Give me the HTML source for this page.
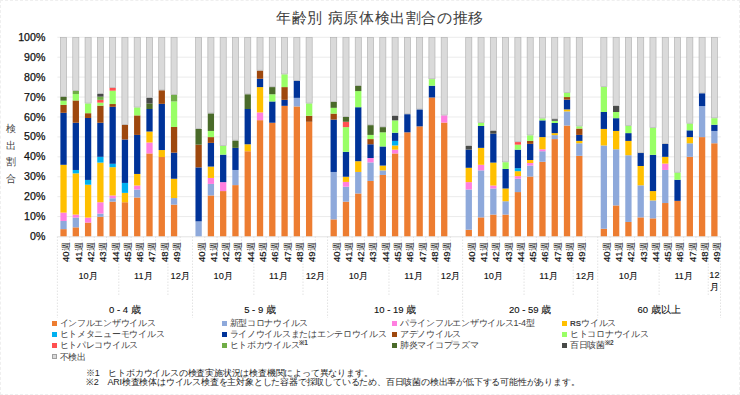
<!DOCTYPE html>
<html><head><meta charset="utf-8">
<style>
html,body{margin:0;padding:0;background:#fff;}
body{width:740px;height:395px;position:relative;overflow:hidden;font-family:"Liberation Sans",sans-serif;color:#404040;}
.frame{position:absolute;left:0;top:0;width:740px;height:395px;box-sizing:border-box;border:1px dashed #efefef;}
.title{position:absolute;left:0;width:760px;top:9px;text-align:center;font-size:15px;letter-spacing:0.6px;color:#404040;white-space:nowrap;}
svg{position:absolute;left:0;top:0;}
.yl{position:absolute;right:694.7px;font-size:10.6px;line-height:13px;color:#111;-webkit-text-stroke:0.25px #111;text-align:right;white-space:nowrap;}
.ytitle{position:absolute;left:5px;top:121px;width:11px;font-size:10px;line-height:16.6px;color:#404040;text-align:center;}
.wk{position:absolute;top:261.5px;font-size:9.5px;line-height:10px;height:10px;white-space:nowrap;transform-origin:0 0;transform:rotate(-90deg);color:#111;font-weight:normal;-webkit-text-stroke:0.2px #111;}
.sh{font-size:8.6px;font-weight:normal;color:#222;-webkit-text-stroke:0;}
.mo{position:absolute;top:270px;font-size:9.2px;line-height:12px;font-weight:normal;color:#111;-webkit-text-stroke:0.12px #111;transform:translateX(-50%);white-space:nowrap;}
.mo2{top:268.5px;line-height:12px;text-align:center;}
.age{position:absolute;top:303px;font-size:9.5px;line-height:13px;font-weight:normal;color:#111;-webkit-text-stroke:0.12px #111;transform:translateX(-50%);white-space:nowrap;}
.lg{position:absolute;font-size:9px;line-height:12px;color:#404040;white-space:nowrap;letter-spacing:-0.27px;}
.lg sup{font-size:6.5px;vertical-align:baseline;position:relative;top:-3px;letter-spacing:0;font-weight:bold;}
.lg b{font-size:8px;letter-spacing:0;}
.sw{display:inline-block;width:5px;height:5px;margin-right:3px;vertical-align:0.5px;}
.fn{position:absolute;left:86px;font-size:9px;letter-spacing:-0.2px;line-height:10px;color:#262626;white-space:nowrap;}
</style></head><body>
<div class="frame"></div>
<div class="title"><span id="tt">年齢別 病原体検出割合の推移</span></div>
<svg width="740" height="395" viewBox="0 0 740 395">
<line x1="57.4" y1="216.58" x2="720.8" y2="216.58" stroke="#e6e6e6" stroke-width="0.8"/>
<line x1="57.4" y1="196.66" x2="720.8" y2="196.66" stroke="#e6e6e6" stroke-width="0.8"/>
<line x1="57.4" y1="176.74" x2="720.8" y2="176.74" stroke="#e6e6e6" stroke-width="0.8"/>
<line x1="57.4" y1="156.82" x2="720.8" y2="156.82" stroke="#e6e6e6" stroke-width="0.8"/>
<line x1="57.4" y1="136.90" x2="720.8" y2="136.90" stroke="#e6e6e6" stroke-width="0.8"/>
<line x1="57.4" y1="116.98" x2="720.8" y2="116.98" stroke="#e6e6e6" stroke-width="0.8"/>
<line x1="57.4" y1="97.06" x2="720.8" y2="97.06" stroke="#e6e6e6" stroke-width="0.8"/>
<line x1="57.4" y1="77.14" x2="720.8" y2="77.14" stroke="#e6e6e6" stroke-width="0.8"/>
<line x1="57.4" y1="57.22" x2="720.8" y2="57.22" stroke="#e6e6e6" stroke-width="0.8"/>
<line x1="57.4" y1="37.30" x2="720.8" y2="37.30" stroke="#e6e6e6" stroke-width="0.8"/>
<rect x="60.39" y="229.13" width="6.30" height="7.37" fill="#ED7D31"/>
<rect x="60.39" y="220.96" width="6.30" height="8.17" fill="#8EA9DB"/>
<rect x="60.39" y="212.60" width="6.30" height="8.37" fill="#FF7FE0"/>
<rect x="60.39" y="164.79" width="6.30" height="47.81" fill="#FFC000"/>
<rect x="60.39" y="112.80" width="6.30" height="51.99" fill="#003399"/>
<rect x="60.39" y="104.83" width="6.30" height="7.97" fill="#9E480E"/>
<rect x="60.39" y="100.65" width="6.30" height="4.18" fill="#99FF66"/>
<rect x="60.39" y="96.66" width="6.30" height="3.98" fill="#4A6B2A"/>
<rect x="60.49" y="37.65" width="6.10" height="58.66" fill="#DADADA" stroke="#b0b0b0" stroke-width="0.65"/>
<rect x="72.67" y="227.34" width="6.30" height="9.16" fill="#ED7D31"/>
<rect x="72.67" y="217.58" width="6.30" height="9.76" fill="#8EA9DB"/>
<rect x="72.67" y="214.59" width="6.30" height="2.99" fill="#FF7FE0"/>
<rect x="72.67" y="173.35" width="6.30" height="41.23" fill="#FFC000"/>
<rect x="72.67" y="169.97" width="6.30" height="3.39" fill="#00B0F0"/>
<rect x="72.67" y="122.76" width="6.30" height="47.21" fill="#003399"/>
<rect x="72.67" y="100.45" width="6.30" height="22.31" fill="#9E480E"/>
<rect x="72.67" y="94.07" width="6.30" height="6.37" fill="#99FF66"/>
<rect x="72.67" y="90.69" width="6.30" height="3.39" fill="#70AD47"/>
<rect x="72.77" y="37.65" width="6.10" height="52.69" fill="#DADADA" stroke="#b0b0b0" stroke-width="0.65"/>
<rect x="84.95" y="222.56" width="6.30" height="13.94" fill="#ED7D31"/>
<rect x="84.95" y="217.58" width="6.30" height="4.98" fill="#FF7FE0"/>
<rect x="84.95" y="184.71" width="6.30" height="32.87" fill="#FFC000"/>
<rect x="84.95" y="179.93" width="6.30" height="4.78" fill="#00B0F0"/>
<rect x="84.95" y="117.98" width="6.30" height="61.95" fill="#003399"/>
<rect x="84.95" y="113.20" width="6.30" height="4.78" fill="#9E480E"/>
<rect x="84.95" y="103.43" width="6.30" height="9.76" fill="#99FF66"/>
<rect x="85.05" y="37.65" width="6.10" height="65.43" fill="#DADADA" stroke="#b0b0b0" stroke-width="0.65"/>
<rect x="97.23" y="216.78" width="6.30" height="19.72" fill="#ED7D31"/>
<rect x="97.23" y="213.59" width="6.30" height="3.19" fill="#8EA9DB"/>
<rect x="97.23" y="202.24" width="6.30" height="11.35" fill="#FF7FE0"/>
<rect x="97.23" y="162.60" width="6.30" height="39.64" fill="#FFC000"/>
<rect x="97.23" y="156.82" width="6.30" height="5.78" fill="#00B0F0"/>
<rect x="97.23" y="122.76" width="6.30" height="34.06" fill="#003399"/>
<rect x="97.23" y="105.63" width="6.30" height="17.13" fill="#9E480E"/>
<rect x="97.23" y="102.64" width="6.30" height="2.99" fill="#99FF66"/>
<rect x="97.23" y="99.85" width="6.30" height="2.79" fill="#FF5050"/>
<rect x="97.23" y="96.66" width="6.30" height="3.19" fill="#70AD47"/>
<rect x="97.23" y="93.67" width="6.30" height="2.99" fill="#484a48"/>
<rect x="97.33" y="37.65" width="6.10" height="55.67" fill="#DADADA" stroke="#b0b0b0" stroke-width="0.65"/>
<rect x="109.51" y="201.64" width="6.30" height="34.86" fill="#ED7D31"/>
<rect x="109.51" y="198.25" width="6.30" height="3.39" fill="#8EA9DB"/>
<rect x="109.51" y="195.46" width="6.30" height="2.79" fill="#FF7FE0"/>
<rect x="109.51" y="167.18" width="6.30" height="28.29" fill="#FFC000"/>
<rect x="109.51" y="163.79" width="6.30" height="3.39" fill="#00B0F0"/>
<rect x="109.51" y="106.82" width="6.30" height="56.97" fill="#003399"/>
<rect x="109.51" y="104.03" width="6.30" height="2.79" fill="#9E480E"/>
<rect x="109.51" y="90.69" width="6.30" height="13.35" fill="#99FF66"/>
<rect x="109.51" y="87.70" width="6.30" height="2.99" fill="#FF5050"/>
<rect x="109.61" y="37.65" width="6.10" height="49.70" fill="#DADADA" stroke="#b0b0b0" stroke-width="0.65"/>
<rect x="121.79" y="202.24" width="6.30" height="34.26" fill="#ED7D31"/>
<rect x="121.79" y="192.88" width="6.30" height="9.36" fill="#FFC000"/>
<rect x="121.79" y="182.92" width="6.30" height="9.96" fill="#00B0F0"/>
<rect x="121.79" y="139.49" width="6.30" height="43.43" fill="#003399"/>
<rect x="121.79" y="124.75" width="6.30" height="14.74" fill="#9E480E"/>
<rect x="121.89" y="37.65" width="6.10" height="86.75" fill="#DADADA" stroke="#b0b0b0" stroke-width="0.65"/>
<rect x="134.07" y="197.46" width="6.30" height="39.04" fill="#ED7D31"/>
<rect x="134.07" y="189.49" width="6.30" height="7.97" fill="#8EA9DB"/>
<rect x="134.07" y="185.50" width="6.30" height="3.98" fill="#FF7FE0"/>
<rect x="134.07" y="173.95" width="6.30" height="11.55" fill="#FFC000"/>
<rect x="134.07" y="134.91" width="6.30" height="39.04" fill="#003399"/>
<rect x="134.07" y="115.39" width="6.30" height="19.52" fill="#9E480E"/>
<rect x="134.07" y="107.42" width="6.30" height="7.97" fill="#99FF66"/>
<rect x="134.17" y="37.65" width="6.10" height="69.42" fill="#DADADA" stroke="#b0b0b0" stroke-width="0.65"/>
<rect x="146.35" y="153.43" width="6.30" height="83.07" fill="#ED7D31"/>
<rect x="146.35" y="142.48" width="6.30" height="10.96" fill="#FF7FE0"/>
<rect x="146.35" y="131.52" width="6.30" height="10.96" fill="#FFC000"/>
<rect x="146.35" y="109.01" width="6.30" height="22.51" fill="#003399"/>
<rect x="146.35" y="103.43" width="6.30" height="5.58" fill="#4A6B2A"/>
<rect x="146.35" y="97.86" width="6.30" height="5.58" fill="#484a48"/>
<rect x="146.45" y="37.65" width="6.10" height="59.86" fill="#DADADA" stroke="#b0b0b0" stroke-width="0.65"/>
<rect x="158.63" y="157.02" width="6.30" height="79.48" fill="#ED7D31"/>
<rect x="158.63" y="150.05" width="6.30" height="6.97" fill="#FFC000"/>
<rect x="158.63" y="103.83" width="6.30" height="46.21" fill="#003399"/>
<rect x="158.63" y="90.29" width="6.30" height="13.55" fill="#9E480E"/>
<rect x="158.73" y="37.65" width="6.10" height="52.29" fill="#DADADA" stroke="#b0b0b0" stroke-width="0.65"/>
<rect x="170.91" y="204.63" width="6.30" height="31.87" fill="#ED7D31"/>
<rect x="170.91" y="198.05" width="6.30" height="6.57" fill="#8EA9DB"/>
<rect x="170.91" y="178.73" width="6.30" height="19.32" fill="#FFC000"/>
<rect x="170.91" y="152.64" width="6.30" height="26.10" fill="#003399"/>
<rect x="170.91" y="126.94" width="6.30" height="25.70" fill="#9E480E"/>
<rect x="170.91" y="101.44" width="6.30" height="25.50" fill="#99FF66"/>
<rect x="170.91" y="94.67" width="6.30" height="6.77" fill="#70AD47"/>
<rect x="171.01" y="37.65" width="6.10" height="56.67" fill="#DADADA" stroke="#b0b0b0" stroke-width="0.65"/>
<rect x="195.47" y="221.36" width="6.30" height="15.14" fill="#8EA9DB"/>
<rect x="195.47" y="167.38" width="6.30" height="53.98" fill="#003399"/>
<rect x="195.47" y="144.67" width="6.30" height="22.71" fill="#9E480E"/>
<rect x="195.47" y="128.93" width="6.30" height="15.74" fill="#4A6B2A"/>
<rect x="195.57" y="37.65" width="6.10" height="90.93" fill="#DADADA" stroke="#b0b0b0" stroke-width="0.65"/>
<rect x="207.75" y="195.46" width="6.30" height="41.04" fill="#ED7D31"/>
<rect x="207.75" y="183.91" width="6.30" height="11.55" fill="#8EA9DB"/>
<rect x="207.75" y="177.94" width="6.30" height="5.98" fill="#FF7FE0"/>
<rect x="207.75" y="166.58" width="6.30" height="11.35" fill="#FFC000"/>
<rect x="207.75" y="142.88" width="6.30" height="23.70" fill="#003399"/>
<rect x="207.75" y="137.10" width="6.30" height="5.78" fill="#9E480E"/>
<rect x="207.75" y="130.92" width="6.30" height="6.18" fill="#99FF66"/>
<rect x="207.75" y="113.39" width="6.30" height="17.53" fill="#4A6B2A"/>
<rect x="207.85" y="37.65" width="6.10" height="75.39" fill="#DADADA" stroke="#b0b0b0" stroke-width="0.65"/>
<rect x="220.03" y="191.08" width="6.30" height="45.42" fill="#ED7D31"/>
<rect x="220.03" y="182.12" width="6.30" height="8.96" fill="#FF7FE0"/>
<rect x="220.03" y="154.63" width="6.30" height="27.49" fill="#003399"/>
<rect x="220.03" y="145.86" width="6.30" height="8.76" fill="#99FF66"/>
<rect x="220.13" y="37.65" width="6.10" height="107.86" fill="#DADADA" stroke="#b0b0b0" stroke-width="0.65"/>
<rect x="232.31" y="185.11" width="6.30" height="51.39" fill="#ED7D31"/>
<rect x="232.31" y="169.97" width="6.30" height="15.14" fill="#8EA9DB"/>
<rect x="232.31" y="147.86" width="6.30" height="22.11" fill="#003399"/>
<rect x="232.31" y="140.49" width="6.30" height="7.37" fill="#4A6B2A"/>
<rect x="232.41" y="37.65" width="6.10" height="102.49" fill="#DADADA" stroke="#b0b0b0" stroke-width="0.65"/>
<rect x="244.59" y="151.24" width="6.30" height="85.26" fill="#ED7D31"/>
<rect x="244.59" y="144.27" width="6.30" height="6.97" fill="#FFC000"/>
<rect x="244.59" y="109.01" width="6.30" height="35.26" fill="#003399"/>
<rect x="244.59" y="94.27" width="6.30" height="14.74" fill="#4A6B2A"/>
<rect x="244.69" y="37.65" width="6.10" height="56.27" fill="#DADADA" stroke="#b0b0b0" stroke-width="0.65"/>
<rect x="256.87" y="120.17" width="6.30" height="116.33" fill="#ED7D31"/>
<rect x="256.87" y="112.40" width="6.30" height="7.77" fill="#FF7FE0"/>
<rect x="256.87" y="87.10" width="6.30" height="25.30" fill="#FFC000"/>
<rect x="256.87" y="78.73" width="6.30" height="8.37" fill="#003399"/>
<rect x="256.87" y="70.57" width="6.30" height="8.17" fill="#9E480E"/>
<rect x="256.97" y="37.65" width="6.10" height="32.57" fill="#DADADA" stroke="#b0b0b0" stroke-width="0.65"/>
<rect x="269.15" y="122.76" width="6.30" height="113.74" fill="#ED7D31"/>
<rect x="269.15" y="101.44" width="6.30" height="21.31" fill="#003399"/>
<rect x="269.15" y="94.27" width="6.30" height="7.17" fill="#99FF66"/>
<rect x="269.15" y="87.10" width="6.30" height="7.17" fill="#4A6B2A"/>
<rect x="269.25" y="37.65" width="6.10" height="49.10" fill="#DADADA" stroke="#b0b0b0" stroke-width="0.65"/>
<rect x="281.43" y="105.82" width="6.30" height="130.68" fill="#ED7D31"/>
<rect x="281.43" y="99.85" width="6.30" height="5.98" fill="#003399"/>
<rect x="281.43" y="87.10" width="6.30" height="12.75" fill="#9E480E"/>
<rect x="281.43" y="74.35" width="6.30" height="12.75" fill="#99FF66"/>
<rect x="281.53" y="37.65" width="6.10" height="36.35" fill="#DADADA" stroke="#b0b0b0" stroke-width="0.65"/>
<rect x="293.71" y="106.42" width="6.30" height="130.08" fill="#ED7D31"/>
<rect x="293.71" y="97.86" width="6.30" height="8.57" fill="#8EA9DB"/>
<rect x="293.71" y="80.73" width="6.30" height="17.13" fill="#003399"/>
<rect x="293.81" y="37.65" width="6.10" height="42.73" fill="#DADADA" stroke="#b0b0b0" stroke-width="0.65"/>
<rect x="305.99" y="121.76" width="6.30" height="114.74" fill="#ED7D31"/>
<rect x="305.99" y="115.78" width="6.30" height="5.98" fill="#9E480E"/>
<rect x="305.99" y="103.43" width="6.30" height="12.35" fill="#99FF66"/>
<rect x="306.09" y="37.65" width="6.10" height="65.43" fill="#DADADA" stroke="#b0b0b0" stroke-width="0.65"/>
<rect x="330.55" y="219.37" width="6.30" height="17.13" fill="#ED7D31"/>
<rect x="330.55" y="171.96" width="6.30" height="47.41" fill="#8EA9DB"/>
<rect x="330.55" y="119.57" width="6.30" height="52.39" fill="#003399"/>
<rect x="330.55" y="113.59" width="6.30" height="5.98" fill="#9E480E"/>
<rect x="330.55" y="107.82" width="6.30" height="5.78" fill="#99FF66"/>
<rect x="330.55" y="101.84" width="6.30" height="5.98" fill="#4A6B2A"/>
<rect x="330.65" y="37.65" width="6.10" height="63.84" fill="#DADADA" stroke="#b0b0b0" stroke-width="0.65"/>
<rect x="342.83" y="201.64" width="6.30" height="34.86" fill="#ED7D31"/>
<rect x="342.83" y="186.70" width="6.30" height="14.94" fill="#8EA9DB"/>
<rect x="342.83" y="181.92" width="6.30" height="4.78" fill="#FF7FE0"/>
<rect x="342.83" y="176.74" width="6.30" height="5.18" fill="#FFC000"/>
<rect x="342.83" y="151.84" width="6.30" height="24.90" fill="#003399"/>
<rect x="342.83" y="127.14" width="6.30" height="24.70" fill="#99FF66"/>
<rect x="342.83" y="121.76" width="6.30" height="5.38" fill="#FF5050"/>
<rect x="342.83" y="116.98" width="6.30" height="4.78" fill="#4A6B2A"/>
<rect x="342.93" y="37.65" width="6.10" height="78.98" fill="#DADADA" stroke="#b0b0b0" stroke-width="0.65"/>
<rect x="355.11" y="193.47" width="6.30" height="43.03" fill="#ED7D31"/>
<rect x="355.11" y="171.96" width="6.30" height="21.51" fill="#8EA9DB"/>
<rect x="355.11" y="161.20" width="6.30" height="10.76" fill="#FFC000"/>
<rect x="355.11" y="107.22" width="6.30" height="53.98" fill="#003399"/>
<rect x="355.11" y="91.08" width="6.30" height="16.14" fill="#99FF66"/>
<rect x="355.11" y="85.71" width="6.30" height="5.38" fill="#4A6B2A"/>
<rect x="355.21" y="37.65" width="6.10" height="47.71" fill="#DADADA" stroke="#b0b0b0" stroke-width="0.65"/>
<rect x="367.39" y="180.92" width="6.30" height="55.58" fill="#ED7D31"/>
<rect x="367.39" y="162.40" width="6.30" height="18.53" fill="#8EA9DB"/>
<rect x="367.39" y="158.02" width="6.30" height="4.38" fill="#FF7FE0"/>
<rect x="367.39" y="144.27" width="6.30" height="13.74" fill="#003399"/>
<rect x="367.39" y="139.09" width="6.30" height="5.18" fill="#9E480E"/>
<rect x="367.39" y="134.91" width="6.30" height="4.18" fill="#99FF66"/>
<rect x="367.39" y="125.15" width="6.30" height="9.76" fill="#4A6B2A"/>
<rect x="367.49" y="37.65" width="6.10" height="87.15" fill="#DADADA" stroke="#b0b0b0" stroke-width="0.65"/>
<rect x="379.67" y="174.95" width="6.30" height="61.55" fill="#ED7D31"/>
<rect x="379.67" y="170.37" width="6.30" height="4.58" fill="#8EA9DB"/>
<rect x="379.67" y="165.58" width="6.30" height="4.78" fill="#FFC000"/>
<rect x="379.67" y="146.46" width="6.30" height="19.12" fill="#003399"/>
<rect x="379.67" y="132.32" width="6.30" height="14.14" fill="#99FF66"/>
<rect x="379.67" y="127.14" width="6.30" height="5.18" fill="#4A6B2A"/>
<rect x="379.77" y="37.65" width="6.10" height="89.14" fill="#DADADA" stroke="#b0b0b0" stroke-width="0.65"/>
<rect x="391.95" y="153.43" width="6.30" height="83.07" fill="#ED7D31"/>
<rect x="391.95" y="149.65" width="6.30" height="3.78" fill="#FF7FE0"/>
<rect x="391.95" y="145.47" width="6.30" height="4.18" fill="#FFC000"/>
<rect x="391.95" y="140.88" width="6.30" height="4.58" fill="#00B0F0"/>
<rect x="391.95" y="132.72" width="6.30" height="8.17" fill="#003399"/>
<rect x="391.95" y="120.37" width="6.30" height="12.35" fill="#99FF66"/>
<rect x="391.95" y="115.78" width="6.30" height="4.58" fill="#484a48"/>
<rect x="392.05" y="37.65" width="6.10" height="77.78" fill="#DADADA" stroke="#b0b0b0" stroke-width="0.65"/>
<rect x="404.23" y="132.32" width="6.30" height="104.18" fill="#ED7D31"/>
<rect x="404.23" y="114.19" width="6.30" height="18.13" fill="#003399"/>
<rect x="404.33" y="37.65" width="6.10" height="76.19" fill="#DADADA" stroke="#b0b0b0" stroke-width="0.65"/>
<rect x="416.51" y="126.34" width="6.30" height="110.16" fill="#ED7D31"/>
<rect x="416.51" y="109.41" width="6.30" height="16.93" fill="#003399"/>
<rect x="416.61" y="37.65" width="6.10" height="71.41" fill="#DADADA" stroke="#b0b0b0" stroke-width="0.65"/>
<rect x="428.79" y="97.46" width="6.30" height="139.04" fill="#ED7D31"/>
<rect x="428.79" y="85.71" width="6.30" height="11.75" fill="#003399"/>
<rect x="428.79" y="79.13" width="6.30" height="6.57" fill="#99FF66"/>
<rect x="428.89" y="37.65" width="6.10" height="41.13" fill="#DADADA" stroke="#b0b0b0" stroke-width="0.65"/>
<rect x="441.07" y="122.56" width="6.30" height="113.94" fill="#ED7D31"/>
<rect x="441.07" y="115.39" width="6.30" height="7.17" fill="#FF7FE0"/>
<rect x="441.17" y="37.65" width="6.10" height="77.39" fill="#DADADA" stroke="#b0b0b0" stroke-width="0.65"/>
<rect x="465.63" y="229.73" width="6.30" height="6.77" fill="#ED7D31"/>
<rect x="465.63" y="189.49" width="6.30" height="40.24" fill="#8EA9DB"/>
<rect x="465.63" y="182.12" width="6.30" height="7.37" fill="#FF7FE0"/>
<rect x="465.63" y="167.78" width="6.30" height="14.34" fill="#FFC000"/>
<rect x="465.63" y="149.65" width="6.30" height="18.13" fill="#003399"/>
<rect x="465.63" y="145.86" width="6.30" height="3.78" fill="#484a48"/>
<rect x="465.73" y="37.65" width="6.10" height="107.86" fill="#DADADA" stroke="#b0b0b0" stroke-width="0.65"/>
<rect x="477.91" y="217.38" width="6.30" height="19.12" fill="#ED7D31"/>
<rect x="477.91" y="170.37" width="6.30" height="47.01" fill="#8EA9DB"/>
<rect x="477.91" y="164.79" width="6.30" height="5.58" fill="#FF7FE0"/>
<rect x="477.91" y="147.86" width="6.30" height="16.93" fill="#FFC000"/>
<rect x="477.91" y="125.94" width="6.30" height="21.91" fill="#003399"/>
<rect x="477.91" y="122.96" width="6.30" height="2.99" fill="#99FF66"/>
<rect x="478.01" y="37.65" width="6.10" height="84.96" fill="#DADADA" stroke="#b0b0b0" stroke-width="0.65"/>
<rect x="490.19" y="214.59" width="6.30" height="21.91" fill="#ED7D31"/>
<rect x="490.19" y="188.49" width="6.30" height="26.10" fill="#8EA9DB"/>
<rect x="490.19" y="185.50" width="6.30" height="2.99" fill="#FF7FE0"/>
<rect x="490.19" y="162.60" width="6.30" height="22.91" fill="#FFC000"/>
<rect x="490.19" y="133.71" width="6.30" height="28.88" fill="#003399"/>
<rect x="490.19" y="130.72" width="6.30" height="2.99" fill="#484a48"/>
<rect x="490.29" y="37.65" width="6.10" height="92.72" fill="#DADADA" stroke="#b0b0b0" stroke-width="0.65"/>
<rect x="502.47" y="214.59" width="6.30" height="21.91" fill="#ED7D31"/>
<rect x="502.47" y="201.24" width="6.30" height="13.35" fill="#8EA9DB"/>
<rect x="502.47" y="188.49" width="6.30" height="12.75" fill="#FFC000"/>
<rect x="502.47" y="168.97" width="6.30" height="19.52" fill="#003399"/>
<rect x="502.47" y="162.20" width="6.30" height="6.77" fill="#99FF66"/>
<rect x="502.57" y="37.65" width="6.10" height="124.20" fill="#DADADA" stroke="#b0b0b0" stroke-width="0.65"/>
<rect x="514.75" y="192.08" width="6.30" height="44.42" fill="#ED7D31"/>
<rect x="514.75" y="178.73" width="6.30" height="13.35" fill="#8EA9DB"/>
<rect x="514.75" y="176.14" width="6.30" height="2.59" fill="#FF7FE0"/>
<rect x="514.75" y="171.16" width="6.30" height="4.98" fill="#FFC000"/>
<rect x="514.75" y="168.17" width="6.30" height="2.99" fill="#00B0F0"/>
<rect x="514.75" y="149.65" width="6.30" height="18.53" fill="#003399"/>
<rect x="514.75" y="144.67" width="6.30" height="4.98" fill="#99FF66"/>
<rect x="514.75" y="142.08" width="6.30" height="2.59" fill="#FF5050"/>
<rect x="514.85" y="37.65" width="6.10" height="104.08" fill="#DADADA" stroke="#b0b0b0" stroke-width="0.65"/>
<rect x="527.03" y="176.54" width="6.30" height="59.96" fill="#ED7D31"/>
<rect x="527.03" y="165.58" width="6.30" height="10.96" fill="#8EA9DB"/>
<rect x="527.03" y="163.00" width="6.30" height="2.59" fill="#FF7FE0"/>
<rect x="527.03" y="160.01" width="6.30" height="2.99" fill="#FFC000"/>
<rect x="527.03" y="143.87" width="6.30" height="16.14" fill="#003399"/>
<rect x="527.03" y="140.88" width="6.30" height="2.99" fill="#9E480E"/>
<rect x="527.03" y="135.31" width="6.30" height="5.58" fill="#99FF66"/>
<rect x="527.13" y="37.65" width="6.10" height="97.31" fill="#DADADA" stroke="#b0b0b0" stroke-width="0.65"/>
<rect x="539.31" y="161.80" width="6.30" height="74.70" fill="#ED7D31"/>
<rect x="539.31" y="151.24" width="6.30" height="10.56" fill="#8EA9DB"/>
<rect x="539.31" y="149.25" width="6.30" height="1.99" fill="#FF7FE0"/>
<rect x="539.31" y="137.10" width="6.30" height="12.15" fill="#FFC000"/>
<rect x="539.31" y="120.37" width="6.30" height="16.73" fill="#003399"/>
<rect x="539.31" y="118.37" width="6.30" height="1.99" fill="#99FF66"/>
<rect x="539.41" y="37.65" width="6.10" height="80.37" fill="#DADADA" stroke="#b0b0b0" stroke-width="0.65"/>
<rect x="551.59" y="139.09" width="6.30" height="97.41" fill="#ED7D31"/>
<rect x="551.59" y="135.11" width="6.30" height="3.98" fill="#8EA9DB"/>
<rect x="551.59" y="133.12" width="6.30" height="1.99" fill="#FFC000"/>
<rect x="551.59" y="122.96" width="6.30" height="10.16" fill="#003399"/>
<rect x="551.59" y="120.76" width="6.30" height="2.19" fill="#99FF66"/>
<rect x="551.59" y="119.17" width="6.30" height="1.59" fill="#484a48"/>
<rect x="551.69" y="37.65" width="6.10" height="81.17" fill="#DADADA" stroke="#b0b0b0" stroke-width="0.65"/>
<rect x="563.87" y="125.55" width="6.30" height="110.95" fill="#ED7D31"/>
<rect x="563.87" y="111.40" width="6.30" height="14.14" fill="#8EA9DB"/>
<rect x="563.87" y="109.41" width="6.30" height="1.99" fill="#FFC000"/>
<rect x="563.87" y="99.65" width="6.30" height="9.76" fill="#003399"/>
<rect x="563.87" y="97.06" width="6.30" height="2.59" fill="#9E480E"/>
<rect x="563.87" y="92.68" width="6.30" height="4.38" fill="#99FF66"/>
<rect x="563.97" y="37.65" width="6.10" height="54.68" fill="#DADADA" stroke="#b0b0b0" stroke-width="0.65"/>
<rect x="576.15" y="155.82" width="6.30" height="80.68" fill="#ED7D31"/>
<rect x="576.15" y="143.27" width="6.30" height="12.55" fill="#8EA9DB"/>
<rect x="576.15" y="140.88" width="6.30" height="2.39" fill="#FFC000"/>
<rect x="576.15" y="134.91" width="6.30" height="5.98" fill="#003399"/>
<rect x="576.15" y="128.53" width="6.30" height="6.37" fill="#9E480E"/>
<rect x="576.15" y="126.34" width="6.30" height="2.19" fill="#99FF66"/>
<rect x="576.25" y="37.65" width="6.10" height="88.34" fill="#DADADA" stroke="#b0b0b0" stroke-width="0.65"/>
<rect x="600.71" y="228.73" width="6.30" height="7.77" fill="#ED7D31"/>
<rect x="600.71" y="145.47" width="6.30" height="83.27" fill="#8EA9DB"/>
<rect x="600.71" y="128.93" width="6.30" height="16.53" fill="#FFC000"/>
<rect x="600.71" y="112.00" width="6.30" height="16.93" fill="#003399"/>
<rect x="600.71" y="86.90" width="6.30" height="25.10" fill="#99FF66"/>
<rect x="600.81" y="37.65" width="6.10" height="48.90" fill="#DADADA" stroke="#b0b0b0" stroke-width="0.65"/>
<rect x="612.99" y="205.42" width="6.30" height="31.08" fill="#ED7D31"/>
<rect x="612.99" y="149.25" width="6.30" height="56.17" fill="#8EA9DB"/>
<rect x="612.99" y="130.92" width="6.30" height="18.33" fill="#FFC000"/>
<rect x="612.99" y="118.18" width="6.30" height="12.75" fill="#003399"/>
<rect x="612.99" y="112.00" width="6.30" height="6.18" fill="#99FF66"/>
<rect x="612.99" y="106.02" width="6.30" height="5.98" fill="#484a48"/>
<rect x="613.09" y="37.65" width="6.10" height="68.02" fill="#DADADA" stroke="#b0b0b0" stroke-width="0.65"/>
<rect x="625.27" y="221.96" width="6.30" height="14.54" fill="#ED7D31"/>
<rect x="625.27" y="155.23" width="6.30" height="66.73" fill="#8EA9DB"/>
<rect x="625.27" y="140.88" width="6.30" height="14.34" fill="#FFC000"/>
<rect x="625.27" y="133.12" width="6.30" height="7.77" fill="#003399"/>
<rect x="625.27" y="125.94" width="6.30" height="7.17" fill="#99FF66"/>
<rect x="625.37" y="37.65" width="6.10" height="87.94" fill="#DADADA" stroke="#b0b0b0" stroke-width="0.65"/>
<rect x="637.55" y="217.38" width="6.30" height="19.12" fill="#ED7D31"/>
<rect x="637.55" y="185.31" width="6.30" height="32.07" fill="#8EA9DB"/>
<rect x="637.55" y="165.98" width="6.30" height="19.32" fill="#FFC000"/>
<rect x="637.55" y="153.04" width="6.30" height="12.95" fill="#003399"/>
<rect x="637.65" y="37.65" width="6.10" height="115.04" fill="#DADADA" stroke="#b0b0b0" stroke-width="0.65"/>
<rect x="649.83" y="218.37" width="6.30" height="18.13" fill="#ED7D31"/>
<rect x="649.83" y="200.44" width="6.30" height="17.93" fill="#8EA9DB"/>
<rect x="649.83" y="191.08" width="6.30" height="9.36" fill="#FFC000"/>
<rect x="649.83" y="154.83" width="6.30" height="36.25" fill="#003399"/>
<rect x="649.83" y="127.74" width="6.30" height="27.09" fill="#99FF66"/>
<rect x="649.93" y="37.65" width="6.10" height="89.74" fill="#DADADA" stroke="#b0b0b0" stroke-width="0.65"/>
<rect x="662.11" y="203.03" width="6.30" height="33.47" fill="#ED7D31"/>
<rect x="662.11" y="169.97" width="6.30" height="33.07" fill="#8EA9DB"/>
<rect x="662.11" y="163.59" width="6.30" height="6.37" fill="#FF7FE0"/>
<rect x="662.11" y="156.82" width="6.30" height="6.77" fill="#FFC000"/>
<rect x="662.11" y="143.87" width="6.30" height="12.95" fill="#003399"/>
<rect x="662.21" y="37.65" width="6.10" height="105.87" fill="#DADADA" stroke="#b0b0b0" stroke-width="0.65"/>
<rect x="674.39" y="200.84" width="6.30" height="35.66" fill="#ED7D31"/>
<rect x="674.39" y="179.73" width="6.30" height="21.12" fill="#003399"/>
<rect x="674.39" y="172.56" width="6.30" height="7.17" fill="#99FF66"/>
<rect x="674.49" y="37.65" width="6.10" height="134.56" fill="#DADADA" stroke="#b0b0b0" stroke-width="0.65"/>
<rect x="686.67" y="156.82" width="6.30" height="79.68" fill="#ED7D31"/>
<rect x="686.67" y="143.27" width="6.30" height="13.55" fill="#8EA9DB"/>
<rect x="686.67" y="137.10" width="6.30" height="6.18" fill="#FFC000"/>
<rect x="686.67" y="130.33" width="6.30" height="6.77" fill="#003399"/>
<rect x="686.67" y="123.55" width="6.30" height="6.77" fill="#99FF66"/>
<rect x="686.77" y="37.65" width="6.10" height="85.55" fill="#DADADA" stroke="#b0b0b0" stroke-width="0.65"/>
<rect x="698.95" y="137.10" width="6.30" height="99.40" fill="#ED7D31"/>
<rect x="698.95" y="106.02" width="6.30" height="31.08" fill="#8EA9DB"/>
<rect x="698.95" y="93.28" width="6.30" height="12.75" fill="#003399"/>
<rect x="699.05" y="37.65" width="6.10" height="55.28" fill="#DADADA" stroke="#b0b0b0" stroke-width="0.65"/>
<rect x="711.23" y="143.27" width="6.30" height="93.23" fill="#ED7D31"/>
<rect x="711.23" y="130.92" width="6.30" height="12.35" fill="#8EA9DB"/>
<rect x="711.23" y="124.75" width="6.30" height="6.18" fill="#003399"/>
<rect x="711.23" y="118.18" width="6.30" height="6.57" fill="#99FF66"/>
<rect x="711.33" y="37.65" width="6.10" height="80.18" fill="#DADADA" stroke="#b0b0b0" stroke-width="0.65"/>
<line x1="57.4" y1="236.80" x2="720.8" y2="236.80" stroke="#d9d9d9" stroke-width="0.75"/>
<line x1="57.40" y1="236.5" x2="57.40" y2="318" stroke="#d9d9d9" stroke-width="0.75" stroke-dasharray="1.5,1.5"/>
<line x1="69.68" y1="236.5" x2="69.68" y2="262" stroke="#d9d9d9" stroke-width="0.75" stroke-dasharray="1.5,1.5"/>
<line x1="81.96" y1="236.5" x2="81.96" y2="262" stroke="#d9d9d9" stroke-width="0.75" stroke-dasharray="1.5,1.5"/>
<line x1="94.24" y1="236.5" x2="94.24" y2="262" stroke="#d9d9d9" stroke-width="0.75" stroke-dasharray="1.5,1.5"/>
<line x1="106.52" y1="236.5" x2="106.52" y2="262" stroke="#d9d9d9" stroke-width="0.75" stroke-dasharray="1.5,1.5"/>
<line x1="118.80" y1="236.5" x2="118.80" y2="295.5" stroke="#d9d9d9" stroke-width="0.75" stroke-dasharray="1.5,1.5"/>
<line x1="131.08" y1="236.5" x2="131.08" y2="262" stroke="#d9d9d9" stroke-width="0.75" stroke-dasharray="1.5,1.5"/>
<line x1="143.36" y1="236.5" x2="143.36" y2="262" stroke="#d9d9d9" stroke-width="0.75" stroke-dasharray="1.5,1.5"/>
<line x1="155.64" y1="236.5" x2="155.64" y2="262" stroke="#d9d9d9" stroke-width="0.75" stroke-dasharray="1.5,1.5"/>
<line x1="167.92" y1="236.5" x2="167.92" y2="295.5" stroke="#d9d9d9" stroke-width="0.75" stroke-dasharray="1.5,1.5"/>
<line x1="180.20" y1="236.5" x2="180.20" y2="262" stroke="#d9d9d9" stroke-width="0.75" stroke-dasharray="1.5,1.5"/>
<line x1="192.48" y1="236.5" x2="192.48" y2="318" stroke="#d9d9d9" stroke-width="0.75" stroke-dasharray="1.5,1.5"/>
<line x1="204.76" y1="236.5" x2="204.76" y2="262" stroke="#d9d9d9" stroke-width="0.75" stroke-dasharray="1.5,1.5"/>
<line x1="217.04" y1="236.5" x2="217.04" y2="262" stroke="#d9d9d9" stroke-width="0.75" stroke-dasharray="1.5,1.5"/>
<line x1="229.32" y1="236.5" x2="229.32" y2="262" stroke="#d9d9d9" stroke-width="0.75" stroke-dasharray="1.5,1.5"/>
<line x1="241.60" y1="236.5" x2="241.60" y2="262" stroke="#d9d9d9" stroke-width="0.75" stroke-dasharray="1.5,1.5"/>
<line x1="253.88" y1="236.5" x2="253.88" y2="295.5" stroke="#d9d9d9" stroke-width="0.75" stroke-dasharray="1.5,1.5"/>
<line x1="266.16" y1="236.5" x2="266.16" y2="262" stroke="#d9d9d9" stroke-width="0.75" stroke-dasharray="1.5,1.5"/>
<line x1="278.44" y1="236.5" x2="278.44" y2="262" stroke="#d9d9d9" stroke-width="0.75" stroke-dasharray="1.5,1.5"/>
<line x1="290.72" y1="236.5" x2="290.72" y2="262" stroke="#d9d9d9" stroke-width="0.75" stroke-dasharray="1.5,1.5"/>
<line x1="303.00" y1="236.5" x2="303.00" y2="295.5" stroke="#d9d9d9" stroke-width="0.75" stroke-dasharray="1.5,1.5"/>
<line x1="315.28" y1="236.5" x2="315.28" y2="262" stroke="#d9d9d9" stroke-width="0.75" stroke-dasharray="1.5,1.5"/>
<line x1="327.56" y1="236.5" x2="327.56" y2="318" stroke="#d9d9d9" stroke-width="0.75" stroke-dasharray="1.5,1.5"/>
<line x1="339.84" y1="236.5" x2="339.84" y2="262" stroke="#d9d9d9" stroke-width="0.75" stroke-dasharray="1.5,1.5"/>
<line x1="352.12" y1="236.5" x2="352.12" y2="262" stroke="#d9d9d9" stroke-width="0.75" stroke-dasharray="1.5,1.5"/>
<line x1="364.40" y1="236.5" x2="364.40" y2="262" stroke="#d9d9d9" stroke-width="0.75" stroke-dasharray="1.5,1.5"/>
<line x1="376.68" y1="236.5" x2="376.68" y2="262" stroke="#d9d9d9" stroke-width="0.75" stroke-dasharray="1.5,1.5"/>
<line x1="388.96" y1="236.5" x2="388.96" y2="295.5" stroke="#d9d9d9" stroke-width="0.75" stroke-dasharray="1.5,1.5"/>
<line x1="401.24" y1="236.5" x2="401.24" y2="262" stroke="#d9d9d9" stroke-width="0.75" stroke-dasharray="1.5,1.5"/>
<line x1="413.52" y1="236.5" x2="413.52" y2="262" stroke="#d9d9d9" stroke-width="0.75" stroke-dasharray="1.5,1.5"/>
<line x1="425.80" y1="236.5" x2="425.80" y2="262" stroke="#d9d9d9" stroke-width="0.75" stroke-dasharray="1.5,1.5"/>
<line x1="438.08" y1="236.5" x2="438.08" y2="295.5" stroke="#d9d9d9" stroke-width="0.75" stroke-dasharray="1.5,1.5"/>
<line x1="450.36" y1="236.5" x2="450.36" y2="262" stroke="#d9d9d9" stroke-width="0.75" stroke-dasharray="1.5,1.5"/>
<line x1="462.64" y1="236.5" x2="462.64" y2="318" stroke="#d9d9d9" stroke-width="0.75" stroke-dasharray="1.5,1.5"/>
<line x1="474.92" y1="236.5" x2="474.92" y2="262" stroke="#d9d9d9" stroke-width="0.75" stroke-dasharray="1.5,1.5"/>
<line x1="487.20" y1="236.5" x2="487.20" y2="262" stroke="#d9d9d9" stroke-width="0.75" stroke-dasharray="1.5,1.5"/>
<line x1="499.48" y1="236.5" x2="499.48" y2="262" stroke="#d9d9d9" stroke-width="0.75" stroke-dasharray="1.5,1.5"/>
<line x1="511.76" y1="236.5" x2="511.76" y2="262" stroke="#d9d9d9" stroke-width="0.75" stroke-dasharray="1.5,1.5"/>
<line x1="524.04" y1="236.5" x2="524.04" y2="295.5" stroke="#d9d9d9" stroke-width="0.75" stroke-dasharray="1.5,1.5"/>
<line x1="536.32" y1="236.5" x2="536.32" y2="262" stroke="#d9d9d9" stroke-width="0.75" stroke-dasharray="1.5,1.5"/>
<line x1="548.60" y1="236.5" x2="548.60" y2="262" stroke="#d9d9d9" stroke-width="0.75" stroke-dasharray="1.5,1.5"/>
<line x1="560.88" y1="236.5" x2="560.88" y2="262" stroke="#d9d9d9" stroke-width="0.75" stroke-dasharray="1.5,1.5"/>
<line x1="573.16" y1="236.5" x2="573.16" y2="295.5" stroke="#d9d9d9" stroke-width="0.75" stroke-dasharray="1.5,1.5"/>
<line x1="585.44" y1="236.5" x2="585.44" y2="262" stroke="#d9d9d9" stroke-width="0.75" stroke-dasharray="1.5,1.5"/>
<line x1="597.72" y1="236.5" x2="597.72" y2="318" stroke="#d9d9d9" stroke-width="0.75" stroke-dasharray="1.5,1.5"/>
<line x1="610.00" y1="236.5" x2="610.00" y2="262" stroke="#d9d9d9" stroke-width="0.75" stroke-dasharray="1.5,1.5"/>
<line x1="622.28" y1="236.5" x2="622.28" y2="262" stroke="#d9d9d9" stroke-width="0.75" stroke-dasharray="1.5,1.5"/>
<line x1="634.56" y1="236.5" x2="634.56" y2="262" stroke="#d9d9d9" stroke-width="0.75" stroke-dasharray="1.5,1.5"/>
<line x1="646.84" y1="236.5" x2="646.84" y2="262" stroke="#d9d9d9" stroke-width="0.75" stroke-dasharray="1.5,1.5"/>
<line x1="659.12" y1="236.5" x2="659.12" y2="295.5" stroke="#d9d9d9" stroke-width="0.75" stroke-dasharray="1.5,1.5"/>
<line x1="671.40" y1="236.5" x2="671.40" y2="262" stroke="#d9d9d9" stroke-width="0.75" stroke-dasharray="1.5,1.5"/>
<line x1="683.68" y1="236.5" x2="683.68" y2="262" stroke="#d9d9d9" stroke-width="0.75" stroke-dasharray="1.5,1.5"/>
<line x1="695.96" y1="236.5" x2="695.96" y2="262" stroke="#d9d9d9" stroke-width="0.75" stroke-dasharray="1.5,1.5"/>
<line x1="708.24" y1="236.5" x2="708.24" y2="295.5" stroke="#d9d9d9" stroke-width="0.75" stroke-dasharray="1.5,1.5"/>
<line x1="720.52" y1="236.5" x2="720.52" y2="318" stroke="#d9d9d9" stroke-width="0.75" stroke-dasharray="1.5,1.5"/>
</svg>
<div class="yl" style="top:230.0px">0%</div>
<div class="yl" style="top:210.1px">10%</div>
<div class="yl" style="top:190.2px">20%</div>
<div class="yl" style="top:170.2px">30%</div>
<div class="yl" style="top:150.3px">40%</div>
<div class="yl" style="top:130.4px">50%</div>
<div class="yl" style="top:110.5px">60%</div>
<div class="yl" style="top:90.6px">70%</div>
<div class="yl" style="top:70.6px">80%</div>
<div class="yl" style="top:50.7px">90%</div>
<div class="yl" style="top:30.8px">100%</div>
<div class="ytitle">検<br>出<br>割<br>合</div>
<div id="wks">
<div class="wk" style="left:61.4px">40<span class="sh">週</span></div>
<div class="wk" style="left:73.7px">41<span class="sh">週</span></div>
<div class="wk" style="left:86.0px">42<span class="sh">週</span></div>
<div class="wk" style="left:98.3px">43<span class="sh">週</span></div>
<div class="wk" style="left:110.6px">44<span class="sh">週</span></div>
<div class="wk" style="left:122.8px">45<span class="sh">週</span></div>
<div class="wk" style="left:135.1px">46<span class="sh">週</span></div>
<div class="wk" style="left:147.4px">47<span class="sh">週</span></div>
<div class="wk" style="left:159.7px">48<span class="sh">週</span></div>
<div class="wk" style="left:172.0px">49<span class="sh">週</span></div>
<div class="wk" style="left:196.5px">40<span class="sh">週</span></div>
<div class="wk" style="left:208.8px">41<span class="sh">週</span></div>
<div class="wk" style="left:221.1px">42<span class="sh">週</span></div>
<div class="wk" style="left:233.4px">43<span class="sh">週</span></div>
<div class="wk" style="left:245.6px">44<span class="sh">週</span></div>
<div class="wk" style="left:257.9px">45<span class="sh">週</span></div>
<div class="wk" style="left:270.2px">46<span class="sh">週</span></div>
<div class="wk" style="left:282.5px">47<span class="sh">週</span></div>
<div class="wk" style="left:294.8px">48<span class="sh">週</span></div>
<div class="wk" style="left:307.0px">49<span class="sh">週</span></div>
<div class="wk" style="left:331.6px">40<span class="sh">週</span></div>
<div class="wk" style="left:343.9px">41<span class="sh">週</span></div>
<div class="wk" style="left:356.2px">42<span class="sh">週</span></div>
<div class="wk" style="left:368.4px">43<span class="sh">週</span></div>
<div class="wk" style="left:380.7px">44<span class="sh">週</span></div>
<div class="wk" style="left:393.0px">45<span class="sh">週</span></div>
<div class="wk" style="left:405.3px">46<span class="sh">週</span></div>
<div class="wk" style="left:417.6px">47<span class="sh">週</span></div>
<div class="wk" style="left:429.8px">48<span class="sh">週</span></div>
<div class="wk" style="left:442.1px">49<span class="sh">週</span></div>
<div class="wk" style="left:466.7px">40<span class="sh">週</span></div>
<div class="wk" style="left:479.0px">41<span class="sh">週</span></div>
<div class="wk" style="left:491.2px">42<span class="sh">週</span></div>
<div class="wk" style="left:503.5px">43<span class="sh">週</span></div>
<div class="wk" style="left:515.8px">44<span class="sh">週</span></div>
<div class="wk" style="left:528.1px">45<span class="sh">週</span></div>
<div class="wk" style="left:540.4px">46<span class="sh">週</span></div>
<div class="wk" style="left:552.6px">47<span class="sh">週</span></div>
<div class="wk" style="left:564.9px">48<span class="sh">週</span></div>
<div class="wk" style="left:577.2px">49<span class="sh">週</span></div>
<div class="wk" style="left:601.8px">40<span class="sh">週</span></div>
<div class="wk" style="left:614.0px">41<span class="sh">週</span></div>
<div class="wk" style="left:626.3px">42<span class="sh">週</span></div>
<div class="wk" style="left:638.6px">43<span class="sh">週</span></div>
<div class="wk" style="left:650.9px">44<span class="sh">週</span></div>
<div class="wk" style="left:663.2px">45<span class="sh">週</span></div>
<div class="wk" style="left:675.4px">46<span class="sh">週</span></div>
<div class="wk" style="left:687.7px">47<span class="sh">週</span></div>
<div class="wk" style="left:700.0px">48<span class="sh">週</span></div>
<div class="wk" style="left:712.3px">49<span class="sh">週</span></div>
</div>
<div class="mo" style="left:88.1px">10月</div>
<div class="mo" style="left:143.4px">11月</div>
<div class="mo" style="left:180.2px">12月</div>
<div class="mo" style="left:223.2px">10月</div>
<div class="mo" style="left:278.4px">11月</div>
<div class="mo" style="left:315.3px">12月</div>
<div class="mo" style="left:358.3px">10月</div>
<div class="mo" style="left:413.5px">11月</div>
<div class="mo" style="left:450.4px">12月</div>
<div class="mo" style="left:493.3px">10月</div>
<div class="mo" style="left:548.6px">11月</div>
<div class="mo" style="left:585.4px">12月</div>
<div class="mo" style="left:628.4px">10月</div>
<div class="mo" style="left:683.7px">11月</div>
<div class="mo mo2" style="left:714.4px">12<br>月</div>
<div class="age" style="left:124.9px">0 - 4 歳</div>
<div class="age" style="left:260.0px">5 - 9 歳</div>
<div class="age" style="left:395.1px">10 - 19 歳</div>
<div class="age" style="left:530.2px">20 - 59 歳</div>
<div class="age" style="left:659.1px">60 歳以上</div>
<div class="lg" style="left:51.5px;top:317.0px"><span class="sw" style="background:#ED7D31;"></span>インフルエンザウイルス</div>
<div class="lg" style="left:221.5px;top:317.0px"><span class="sw" style="background:#8EA9DB;"></span>新型コロナウイルス</div>
<div class="lg" style="left:392.0px;top:317.0px"><span class="sw" style="background:#FF7FE0;"></span>パラインフルエンザウイルス1-4型</div>
<div class="lg" style="left:562.0px;top:317.0px"><span class="sw" style="background:#FFC000;"></span><b>RS</b>ウイルス</div>
<div class="lg" style="left:51.5px;top:328.2px"><span class="sw" style="background:#00B0F0;"></span>ヒトメタニューモウイルス</div>
<div class="lg" style="left:221.5px;top:328.2px"><span class="sw" style="background:#003399;"></span>ライノウイルスまたはエンテロウイルス</div>
<div class="lg" style="left:392.0px;top:328.2px"><span class="sw" style="background:#9E480E;"></span>アデノウイルス</div>
<div class="lg" style="left:562.0px;top:328.2px"><span class="sw" style="background:#99FF66;"></span>ヒトコロナウイルス</div>
<div class="lg" style="left:51.5px;top:339.4px"><span class="sw" style="background:#FF5050;"></span>ヒトパレコウイルス</div>
<div class="lg" style="left:221.5px;top:339.4px"><span class="sw" style="background:#70AD47;"></span>ヒトボカウイルス<sup>※1</sup></div>
<div class="lg" style="left:392.0px;top:339.4px"><span class="sw" style="background:#4A6B2A;"></span>肺炎マイコプラズマ</div>
<div class="lg" style="left:562.0px;top:339.4px"><span class="sw" style="background:#484a48;"></span>百日咳菌<sup>※2</sup></div>
<div class="lg" style="left:51.5px;top:350.6px"><span class="sw" style="background:#D9D9D9;border:0.8px solid #a0a0a0;box-sizing:border-box;"></span>不検出</div>
<div class="fn" style="top:368px">※1　ヒトボカウイルスの検査実施状況は検査機関によって異なります。</div>
<div class="fn" style="top:377px">※2　ARI検査検体はウイルス検査を主対象とした容器で採取しているため、百日咳菌の検出率が低下する可能性があります。</div>
</body></html>
